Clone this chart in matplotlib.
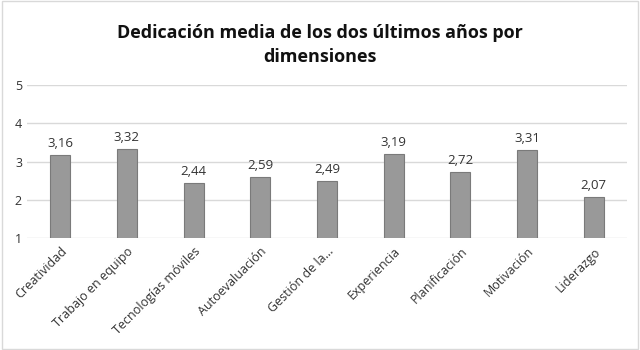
import matplotlib.pyplot as plt
from matplotlib.patches import Rectangle

plt.rcParams['font.family'] = ['Open Sans', 'DejaVu Sans']

dimensiones = ["Creatividad", "Trabajo en equipo", "Tecnologías móviles",
               "Autoevaluación", "Gestión de la...", "Experiencia",
               "Planificación", "Motivación", "Liderazgo"]
medias = [3.16, 3.32, 2.44, 2.59, 2.49, 3.19, 2.72, 3.31, 2.07]

fig = plt.figure(figsize=(6.4, 3.5), dpi=100)
fig.patches.append(Rectangle((0.003, 0.003), 0.994, 0.994, transform=fig.transFigure,
                             fill=False, edgecolor="#d9d9d9", linewidth=1))
ax = fig.add_axes([0.042, 0.32, 0.938, 0.437])

x = range(len(dimensiones))
ax.bar(x, medias, width=0.3, bottom=0, color="#999999", edgecolor="#7a7a7a",
       linewidth=0.8, zorder=3)
for i, v in zip(x, medias):
    ax.text(i, v + 0.13, f"{v:.2f}".replace(".", ","), ha="center", va="bottom",
            fontsize=9.5, color="#333333")

ax.set_ylim(1, 5)
ax.set_xlim(-0.5, len(dimensiones) - 0.5)
ax.set_yticks([1, 2, 3, 4, 5])
ax.yaxis.grid(True, color="#d9d9d9", linewidth=1, zorder=0)
for s in ax.spines.values():
    s.set_visible(False)
ax.tick_params(length=0, labelsize=9, colors="#333333")
ax.tick_params(axis="x", pad=5)
ax.set_xticks(list(x))
ax.set_xticklabels(dimensiones, rotation=45, ha="right", rotation_mode="anchor")

fig.text(0.5, 0.905, "Dedicación media de los dos últimos años por", ha="center",
         va="center", fontsize=13, fontweight="bold", color="#111111")
fig.text(0.5, 0.837, "dimensiones", ha="center", va="center", fontsize=13,
         fontweight="bold", color="#111111")

fig.savefig("out.png", dpi=100)
